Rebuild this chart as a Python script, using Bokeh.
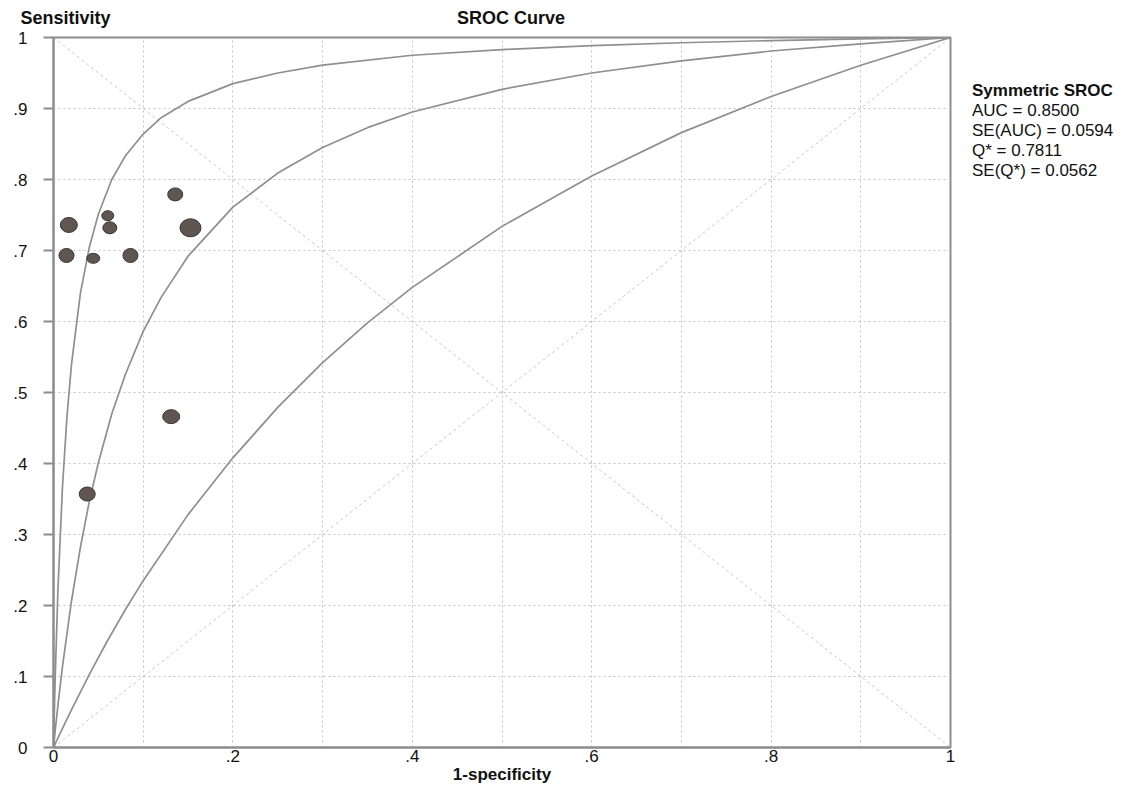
from bokeh.plotting import figure
from bokeh.models import (Range1d, FixedTicker, CustomJSTickFormatter, LinearAxis,
                          Legend, LegendItem)
from bokeh.embed import file_html
from bokeh.resources import INLINE

# ---- data ----
study_fpr = [0.0171, 0.0145, 0.0443, 0.0605, 0.0628, 0.0858, 0.1357, 0.1527, 0.1312, 0.0376]
study_tpr = [0.736, 0.693, 0.689, 0.749, 0.732, 0.693, 0.779, 0.732, 0.466, 0.357]
study_w = [17, 15, 13, 12, 14, 15, 15, 21, 17, 16]   # bubble width (weight)
study_h = [15, 14, 10, 10, 12, 14, 13, 18, 14, 14]

inner_fpr = [0, 0.001, 0.002, 0.005, 0.01, 0.015, 0.02, 0.03, 0.04, 0.05, 0.065, 0.08, 0.1,
             0.12, 0.15, 0.2, 0.25, 0.3, 0.4, 0.5, 0.6, 0.7, 0.8, 0.9, 1]
inner_tpr = [0, 0.054, 0.103, 0.224, 0.367, 0.466, 0.539, 0.640, 0.705, 0.751, 0.800, 0.833, 0.864,
             0.887, 0.910, 0.935, 0.950, 0.961, 0.975, 0.983, 0.9885, 0.9926, 0.9957, 0.9981, 1]

mid_fpr = [0, 0.002, 0.005, 0.01, 0.02, 0.03, 0.04, 0.05, 0.065, 0.08, 0.1, 0.12, 0.15, 0.2,
           0.25, 0.3, 0.35, 0.4, 0.5, 0.6, 0.7, 0.8, 0.9, 1]
mid_tpr = [0, 0.025, 0.060, 0.114, 0.206, 0.282, 0.347, 0.401, 0.470, 0.525, 0.586, 0.634, 0.692, 0.761,
           0.809, 0.845, 0.873, 0.895, 0.927, 0.950, 0.967, 0.981, 0.991, 1]

outer_fpr = [0, 0.01, 0.02, 0.04, 0.06, 0.08, 0.1, 0.15, 0.2, 0.25, 0.3, 0.35, 0.4, 0.5,
             0.6, 0.7, 0.8, 0.9, 1]
outer_tpr = [0, 0.027, 0.053, 0.103, 0.150, 0.194, 0.235, 0.328, 0.408, 0.479, 0.542, 0.598, 0.648, 0.734,
             0.805, 0.866, 0.917, 0.961, 1]

x_ticks = [0, 0.2, 0.4, 0.6, 0.8, 1]
y_ticks = [0, 0.1, 0.2, 0.3, 0.4, 0.5, 0.6, 0.7, 0.8, 0.9, 1]
grid_ticks = [0.1, 0.2, 0.3, 0.4, 0.5, 0.6, 0.7, 0.8, 0.9]

title_text = "SROC Curve"
y_title = "Sensitivity"
x_title = "1-specificity"
head_pos = [0.0134, 0.51]          # x positions of the two header texts
stats_head = "Symmetric SROC"
stats_lines = ["AUC = 0.8500", "SE(AUC) = 0.0594", "Q* = 0.7811", "SE(Q*) = 0.0562"]

FONT = "Liberation Sans"
AXIS_GRAY = "#8c8c8c"
TEXT = "#111111"

p = figure(frame_width=897, frame_height=710, x_range=Range1d(0, 1), y_range=Range1d(0, 1),
           output_backend="svg", toolbar_location=None,
           min_border_left=53, min_border_right=0, min_border_top=37, min_border_bottom=41)
p.background_fill_color = "white"
p.border_fill_color = "white"
p.outline_line_color = AXIS_GRAY
p.outline_line_width = 2

# grid
for g in (p.xgrid, p.ygrid):
    g.ticker = FixedTicker(ticks=grid_ticks)
    g.grid_line_color = "#c4c4c4"
    g.grid_line_dash = "2 3"
    g.grid_line_width = 1

fmt = CustomJSTickFormatter(code="""
    if (Math.abs(tick) < 1e-9) return "0";
    if (Math.abs(tick - 1) < 1e-9) return "1";
    return tick.toFixed(1).replace(/^0/, "");
""")

xa = p.xaxis[0]
xa.ticker = FixedTicker(ticks=x_ticks)
xa.formatter = fmt
xa.major_tick_out = 0
xa.major_tick_in = 0
xa.minor_tick_out = 0
xa.minor_tick_in = 0
xa.axis_line_color = AXIS_GRAY
xa.axis_line_width = 2
xa.major_label_standoff = 2
xa.major_label_text_font = FONT
xa.major_label_text_font_size = "17px"
xa.major_label_text_color = TEXT
xa.axis_label = x_title
xa.axis_label_standoff = 0
xa.axis_label_text_font = FONT
xa.axis_label_text_font_size = "17px"
xa.axis_label_text_font_style = "bold"
xa.axis_label_text_color = TEXT

ya = p.yaxis[0]
ya.ticker = FixedTicker(ticks=y_ticks)
ya.formatter = fmt
ya.major_tick_out = 10
ya.major_tick_in = 0
ya.minor_tick_out = 0
ya.minor_tick_in = 0
ya.major_tick_line_color = AXIS_GRAY
ya.major_tick_line_width = 2
ya.axis_line_color = AXIS_GRAY
ya.axis_line_width = 2
ya.major_label_standoff = 16
ya.major_label_text_font = FONT
ya.major_label_text_font_size = "17px"
ya.major_label_text_color = TEXT

# header texts ("Sensitivity" over the y axis, chart title in the middle)
head_fmt = CustomJSTickFormatter(args=dict(a=y_title, b=title_text),
                                 code="return tick < 0.25 ? a : b;")
top = LinearAxis(ticker=FixedTicker(ticks=head_pos), formatter=head_fmt,
                 axis_line_color=None, major_tick_out=0, major_tick_in=0,
                 minor_tick_out=0, minor_tick_in=0, major_label_standoff=10,
                 major_label_text_font=FONT, major_label_text_font_size="18px",
                 major_label_text_font_style="bold", major_label_text_color=TEXT)
p.add_layout(top, "above")

# reference diagonals
p.line([0, 1], [0, 1], line_color="#c8c8c8", line_dash="3 3", line_width=1)
p.line([0, 1], [1, 0], line_color="#c8c8c8", line_dash="3 3", line_width=1)

# SROC curves
for xs, ys in ((inner_fpr, inner_tpr), (mid_fpr, mid_tpr), (outer_fpr, outer_tpr)):
    p.line(xs, ys, line_color="#8f8f8f", line_width=1.7)

# studies
p.ellipse(x=study_fpr, y=study_tpr, width=study_w, height=study_h,
          width_units="screen", height_units="screen",
          fill_color="#5f5651", line_color="#3a3431", line_width=1)

# statistics block as a legend with a bold title
dummy = p.line([], [], line_alpha=0)
items = [LegendItem(label=t, renderers=[dummy]) for t in stats_lines]
leg = Legend(items=items, title=stats_head, location=(22, 566),
             margin=0, padding=0, spacing=0, glyph_width=0, glyph_height=16,
             label_standoff=0, label_height=16, title_standoff=0,
             border_line_color=None, background_fill_alpha=0,
             label_text_font=FONT, label_text_font_size="17px", label_text_color=TEXT,
             title_text_font=FONT, title_text_font_size="17px",
             title_text_font_style="bold", title_text_color=TEXT)
p.add_layout(leg, "right")

open("out.html", "w").write(file_html(p, INLINE))
